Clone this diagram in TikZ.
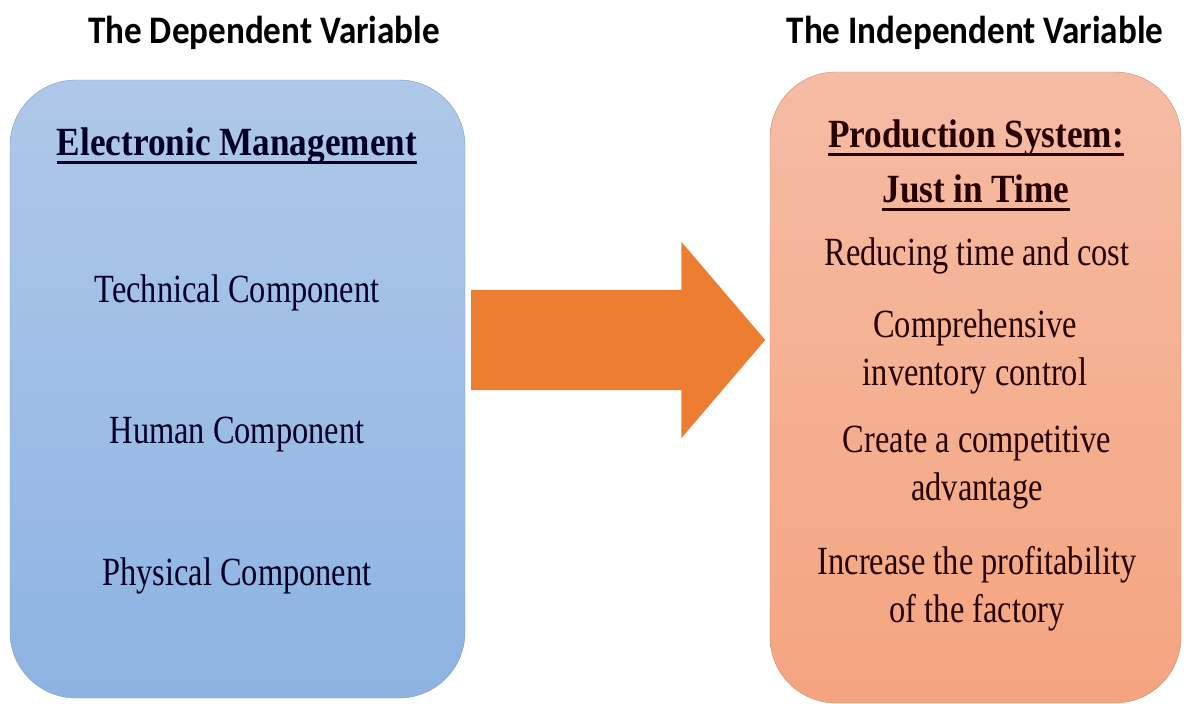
\documentclass[tikz,border=0pt]{standalone}
\usepackage{fontspec}
\usetikzlibrary{shapes.arrows}
\setmainfont[FakeStretch=0.81,BoldFeatures={FakeStretch=0.88}]{Liberation Serif}
\newfontfamily\headfont[FakeStretch=0.9]{Carlito}

\definecolor{boxblue}{HTML}{AFC8E9}
\definecolor{boxbluedark}{HTML}{8DB3E2}
\definecolor{edgeblue}{HTML}{7C9CC6}
\definecolor{boxpeach}{HTML}{F5BCA4}
\definecolor{boxpeachdark}{HTML}{F4A47F}
\definecolor{edgepeach}{HTML}{C98F72}
\definecolor{arroworange}{HTML}{ED7D31}

\newcommand\ulhead[1]{\setbox0=\hbox{\bfseries #1}\makebox[0pt][l]{\rule[-9pt]{\wd0}{3pt}}\box0}

\begin{document}
\begin{tikzpicture}[x=1pt,y=-1pt]
    \useasboundingbox (0,0) rectangle (1184,704);

        \begin{scope}[every node/.style={rounded corners=66pt,thin,inner sep=0pt}]
            \node (dep) at (237.5,389) [draw=edgeblue,top color=boxblue,bottom color=boxbluedark,minimum width=455pt,minimum height=618pt] {};
            \node (indep) at (975.5,387.5) [draw=edgepeach,top color=boxpeach,bottom color=boxpeachdark,minimum width=411pt,minimum height=631pt] {};
        \end{scope}

        \node (flow) at (471,340) [single arrow,fill=arroworange,anchor=tail,inner xsep=0pt,inner ysep=50pt,minimum height=294pt,single arrow head extend=48pt,single arrow tip angle=99] {};

        \begin{scope}[every node/.style={anchor=base,inner sep=0pt,font=\headfont\bfseries\fontsize{39}{46}\selectfont}]
            \node (t1) at (264,43) {The Dependent Variable};
            \node (t2) at (975,43) {The Independent Variable};
        \end{scope}

        \begin{scope}[every node/.style={anchor=base,inner sep=0pt,align=center,text=black!85!blue,font=\fontsize{40}{48}\selectfont}]
            \node (em) at (237,155) {\ulhead{Electronic Management}};
            \node (c1) at (237,302) {Technical Component};
            \node (c2) at (237,443) {Human Component};
            \node (c3) at (237,585) {Physical Component};
        \end{scope}

        \begin{scope}[every node/.style={anchor=base,inner sep=0pt,align=center,text=black!85!red,font=\fontsize{40}{48}\selectfont}]
            \node (jit) at (976,202) {\ulhead{Production System:}\\[7pt]\ulhead{Just in Time}};
            \node (g1) at (977,265) {Reducing time and cost};
            \node (g2) at (975,385) {Comprehensive\\inventory control};
            \node (g3) at (977,500) {Create a competitive\\advantage};
            \node (g4) at (977,622) {Increase the profitability\\of the factory};
        \end{scope}

\end{tikzpicture}
\end{document}
